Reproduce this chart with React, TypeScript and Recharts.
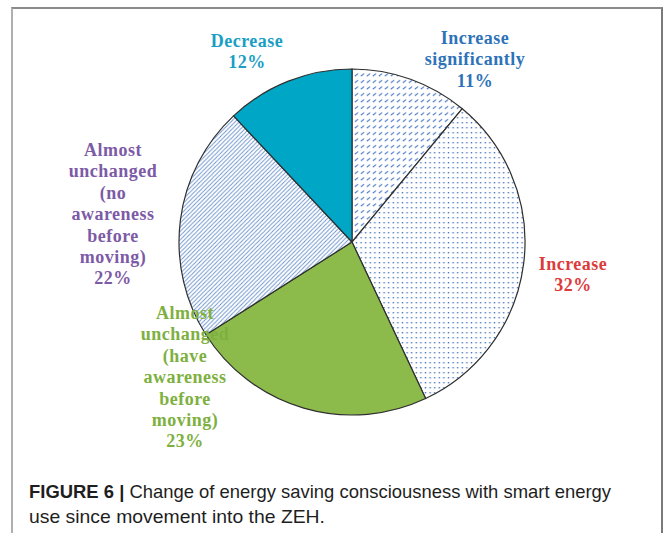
import { PieChart, Pie, Cell } from "recharts";

// slices, clockwise from 12 o'clock
const categories = [
  "Increase significantly",
  "Increase",
  "Almost unchanged (have awareness before moving)",
  "Almost unchanged (no awareness before moving)",
  "Decrease",
];
const shares = [11, 32, 23, 22, 12];
const labelLines = [
  ["Increase", "significantly", "11%"],
  ["Increase", "32%"],
  ["Almost", "unchanged", "(have", "awareness", "before", "moving)", "23%"],
  ["Almost", "unchanged", "(no", "awareness", "before", "moving)", "22%"],
  ["Decrease", "12%"],
];

const data = categories.map((name, i) => ({ name, value: shares[i] }));

const fills = ["url(#pSig)", "url(#pDots)", "#8cbb4c", "url(#pHatch)", "#00a6c6"];
const labelColors = ["#2e72b8", "#dd3b3b", "#7db03e", "#7d5aa6", "#1a9ec4"];
// label anchor offsets from the pie centre (first baseline)
const labelPos = [
  { dx: 123, dy: -198 },
  { dx: 221, dy: 28 },
  { dx: -167, dy: 77 },
  { dx: -239, dy: -86 },
  { dx: -105, dy: -195 },
];

const renderLabel = (props: any) => {
  const { cx, cy, index } = props;
  const p = labelPos[index];
  return (
    <text
      key={`lbl-${index}`}
      x={cx + p.dx}
      y={cy + p.dy}
      textAnchor="middle"
      fill={labelColors[index]}
      fontFamily="'Liberation Serif', 'Times New Roman', serif"
      fontWeight="bold"
      fontSize={18}
      letterSpacing={0.5}
    >
      {labelLines[index].map((t, j) => (
        <tspan key={j} x={cx + p.dx} dy={j === 0 ? 0 : 21.4}>
          {t}
        </tspan>
      ))}
    </text>
  );
};

const captionFont = "'Liberation Sans Narrow', 'Arial Narrow', 'Liberation Sans', sans-serif";

export default function App() {
  return (
    <div
      style={{
        position: "absolute",
        left: 0,
        top: 0,
        width: 663,
        height: 533,
        background: "#fff",
        overflow: "hidden",
      }}
    >
      <div
        style={{
          position: "absolute",
          left: 11,
          top: 7,
          width: 648,
          height: 540,
          borderTop: "2px solid #8a8a8a",
          borderRight: "2px solid #7a7a7a",
          borderLeft: "2px solid #b0b0b0",
        }}
      />
      <PieChart width={663} height={533} style={{ position: "absolute", left: 0, top: 0 }}>
        <defs>
          <pattern id="pSig" width="6" height="6.5" patternUnits="userSpaceOnUse">
            <rect width="6" height="6.5" fill="#fff" />
            <path d="M0.8 4.6 L4.2 2.2" stroke="#3a6cc0" strokeWidth="1.1" />
          </pattern>
          <pattern id="pDots" width="4.6" height="5" patternUnits="userSpaceOnUse">
            <rect width="4.6" height="5" fill="#fff" />
            <rect x="1.6" y="2" width="1.4" height="1.4" fill="#4d7bc0" />
          </pattern>
          <pattern id="pHatch" width="4.2" height="4.2" patternUnits="userSpaceOnUse">
            <rect width="4.2" height="4.2" fill="#fff" />
            <path d="M0 4.2 L4.2 0 M-1 1 L1 -1 M3.2 5.2 L5.2 3.2" stroke="#6a92cc" strokeWidth="0.9" />
          </pattern>
        </defs>
        <Pie
          data={data}
          dataKey="value"
          nameKey="name"
          cx={347}
          cy={237}
          outerRadius={173}
          startAngle={90}
          endAngle={-270}
          stroke="#2f2f2f"
          strokeWidth={1.2}
          label={renderLabel}
          labelLine={false}
          isAnimationActive={false}
        >
          {data.map((d, i) => (
            <Cell key={d.name} fill={fills[i]} />
          ))}
        </Pie>
        <text
          x={29}
          y={498}
          fill="#1e1e1e"
          fontFamily={captionFont}
          fontSize={19}
          textLength={582}
          lengthAdjust="spacingAndGlyphs"
        >
          <tspan fontWeight="bold">FIGURE 6 | </tspan>
          <tspan>Change of energy saving consciousness with smart energy</tspan>
        </text>
        <text
          x={29}
          y={523}
          fill="#1e1e1e"
          fontFamily={captionFont}
          fontSize={19}
          textLength={296}
          lengthAdjust="spacingAndGlyphs"
        >
          use since movement into the ZEH.
        </text>
      </PieChart>
    </div>
  );
}
